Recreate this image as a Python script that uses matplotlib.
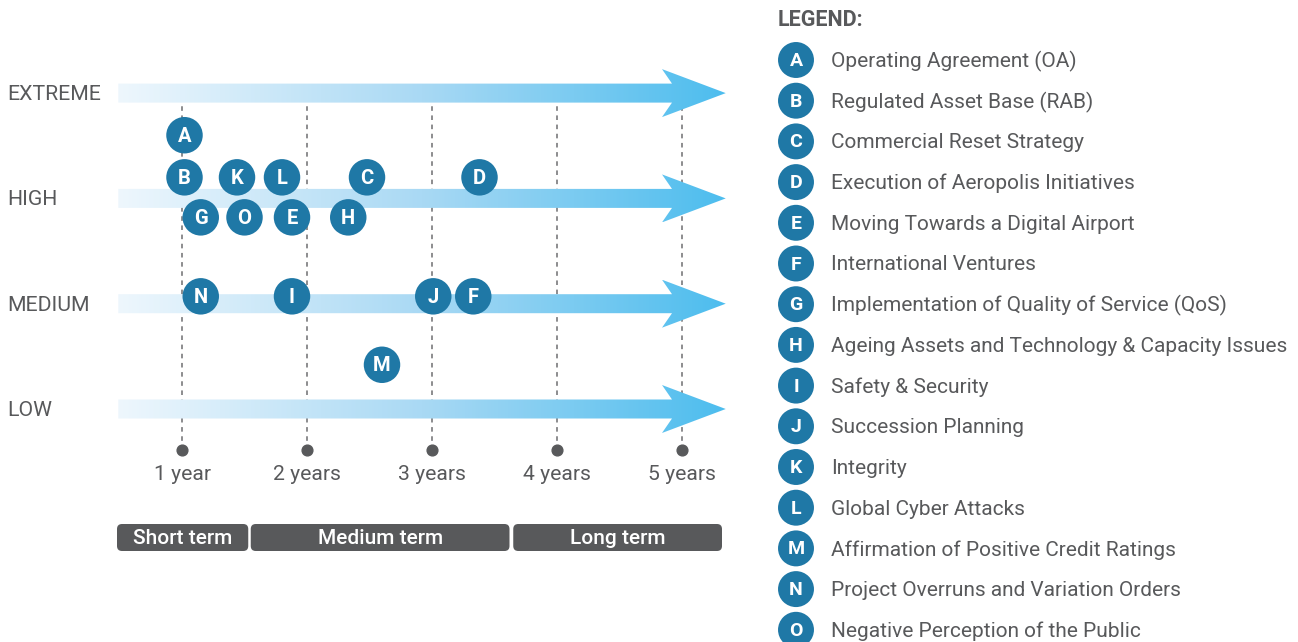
import matplotlib.pyplot as plt
import numpy as np
from matplotlib.patches import Polygon, FancyBboxPatch
from matplotlib.colors import LinearSegmentedColormap

plt.rcParams['font.family'] = ['Roboto', 'DejaVu Sans']

# ---- data ----
level_names = ['LOW', 'MEDIUM', 'HIGH', 'EXTREME']
level_values = [1, 2, 3, 4]

year_ticks = [1, 2, 3, 4, 5]
year_labels = ['1 year', '2 years', '3 years', '4 years', '5 years']

term_names = ['Short term', 'Medium term', 'Long term']
term_start = [0.48, 1.55, 3.65]
term_end = [1.53, 3.62, 5.32]

risk_codes = ['A', 'B', 'C', 'D', 'E', 'F', 'G', 'H', 'I', 'J', 'K', 'L', 'M', 'N', 'O']
risk_names = [
    'Operating Agreement (OA)',
    'Regulated Asset Base (RAB)',
    'Commercial Reset Strategy',
    'Execution of Aeropolis Initiatives',
    'Moving Towards a Digital Airport',
    'International Ventures',
    'Implementation of Quality of Service (QoS)',
    'Ageing Assets and Technology & Capacity Issues',
    'Safety & Security',
    'Succession Planning',
    'Integrity',
    'Global Cyber Attacks',
    'Affirmation of Positive Credit Ratings',
    'Project Overruns and Variation Orders',
    'Negative Perception of the Public',
]
risk_years = [1.02, 1.02, 2.48, 3.38, 1.88, 3.33, 1.15, 2.33, 1.88, 3.01, 1.44, 1.80, 2.60, 1.15, 1.50]
risk_levels = [3.60, 3.20, 3.20, 3.20, 2.82, 2.07, 2.82, 2.82, 2.07, 2.07, 3.20, 3.20, 1.42, 2.07, 2.82]

TEXT = '#58595b'
DOT = '#1f78a6'
BAR = '#58595b'

# ---- figure ----
fig = plt.figure(figsize=(12.98, 6.42), dpi=100)
ax = fig.add_axes([0, 0, 1, 1])
ax.axis('off')

# pixel scale: 125 px per year, 105.3 px per level
px_x = 1 / 125.0
px_y = 1 / 105.3
xmin, xmax = -57 * px_x, (1298 - 57) * px_x
ymax = 1 + 409 * px_y
ymin = 1 - (642 - 409) * px_y

# gradient arrows
cmap = LinearSegmentedColormap.from_list('arr', ['#eef7fd', '#a9d9f4', '#4dbdee'])
grad = np.linspace(0, 1, 256).reshape(1, -1)
x0, xb, xj, xt = 0.49, 4.84, 4.92, 5.35
bh, hh = 9.5 * px_y, 24 * px_y
for lv in level_values:
    pts = [(x0, lv - bh), (xj, lv - bh), (xb, lv - hh), (xt, lv),
           (xb, lv + hh), (xj, lv + bh), (x0, lv + bh)]
    poly = Polygon(pts, closed=True, facecolor='none', edgecolor='none')
    ax.add_patch(poly)
    im = ax.imshow(grad, cmap=cmap, aspect='auto', extent=[x0, xt, lv - hh, lv + hh],
                   origin='lower', zorder=1)
    im.set_clip_path(poly)

# level labels
for name, lv in zip(level_names, level_values):
    ax.text(-50 * px_x, lv - 1.5 * px_y, name, color=TEXT, fontsize=15.3, va='center', ha='left')

# dashed year lines, dots and labels
line_top = 4 - bh
dot_y = 1 - 41 * px_y
for yr, lab in zip(year_ticks, year_labels):
    ax.plot([yr, yr], [dot_y, line_top], color='#6d6e70', lw=1.1, ls=(0, (3, 3)), zorder=0.5)
    ax.scatter([yr], [dot_y], s=60, color='#58595b', zorder=2)
    ax.text(yr, 1 - 65 * px_y, lab, color=TEXT, fontsize=15.2, ha='center', va='center')

# term bars
bar_top = 1 - 115 * px_y
bar_bot = 1 - 142 * px_y
for name, s, e in zip(term_names, term_start, term_end):
    box = FancyBboxPatch((s, bar_bot), e - s, bar_top - bar_bot,
                         boxstyle='round,pad=0,rounding_size=%f' % (5 * px_x),
                         mutation_aspect=125 / 105.3, facecolor=BAR, edgecolor='none')
    ax.add_patch(box)
    ax.text((s + e) / 2, (bar_top + bar_bot) / 2 - 1.5 * px_y, name, color='white',
            fontsize=15, fontweight='medium', ha='center', va='center')

# risk circles
ax.scatter(risk_years, risk_levels, s=690, color=DOT, zorder=3, edgecolors='none')
for c, x, y in zip(risk_codes, risk_years, risk_levels):
    ax.text(x, y - 1 * px_y, c, color='white', fontsize=14.5, fontweight='bold',
            ha='center', va='center', zorder=4)

ax.set_xlim(xmin, xmax)
ax.set_ylim(ymin, ymax)

# legend (pixel layout)
lg = fig.add_axes([0, 0, 1, 1])
lg.axis('off')
lg.set_xlim(0, 1298)
lg.set_ylim(642, 0)
lg.text(778, 20, 'LEGEND:', color=TEXT, fontsize=15.5, fontweight='bold', va='center')
row_y = [60 + i * 40.7 for i in range(len(risk_codes))]
lg.scatter([796] * len(risk_codes), row_y, s=670, color=DOT, edgecolors='none')
for c, name, y in zip(risk_codes, risk_names, row_y):
    lg.text(796, y + 1, c, color='white', fontsize=14, fontweight='bold', ha='center', va='center')
    lg.text(831, y + 1.5, name, color=TEXT, fontsize=15, ha='left', va='center')

fig.savefig('out.png', dpi=100)
